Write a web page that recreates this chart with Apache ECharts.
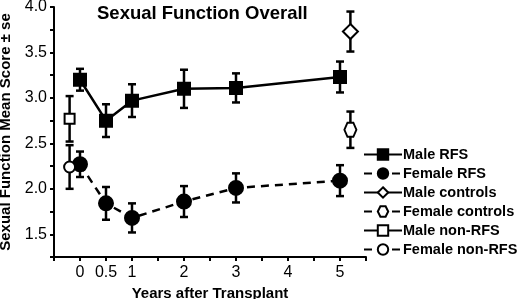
<!DOCTYPE html>
<html>
<head>
<meta charset="utf-8">
<script src="https://cdn.jsdelivr.net/npm/echarts@6/dist/echarts.min.js"></script>
<style>
  html, body { margin: 0; padding: 0; background: #fff; }
  #chart { width: 520px; height: 299px; }
</style>
</head>
<body>
<div id="chart"></div>
<script>
// data
const rfsYears = [0, 0.5, 1, 2, 3, 5];
const maleRfsMean = [3.20, 2.75, 2.97, 3.10, 3.11, 3.23];
const maleRfsSe = [0.12, 0.18, 0.18, 0.21, 0.16, 0.17];
const femaleRfsMean = [2.27, 1.84, 1.68, 1.86, 2.01, 2.09];
const femaleRfsSe = [0.14, 0.18, 0.16, 0.17, 0.16, 0.17];

const controlYear = [5.2];
const maleControlMean = [3.73];
const maleControlSe = [0.22];
const femaleControlMean = [2.65];
const femaleControlSe = [0.20];

const nonRfsYear = [-0.2];
const maleNonRfsMean = [2.77];
const maleNonRfsSe = [0.25];
const femaleNonRfsMean = [2.24];
const femaleNonRfsSe = [0.24];

const xLabels = [0, 0.5, 1, 2, 3, 4, 5];
const yLabels = [1.5, 2.0, 2.5, 3.0, 3.5, 4.0];

const font = 'Liberation Sans, Arial, Helvetica, sans-serif';
const black = '#000';

const pts = (xs, ys) => xs.map((x, i) => [x, ys[i]]);
const bars = (xs, ys, se) => xs.map((x, i) => [x, ys[i] - se[i], ys[i] + se[i]]);

const diamond = 'path://M0,-1L1,0L0,1L-1,0Z';
const hexagon = 'path://M-0.5,-1L0.5,-1L1,0L0.5,1L-0.5,1L-1,0Z';

function errorBars(data) {
  return {
    type: 'custom',
    z: 1,
    silent: true,
    data: data,
    encode: { x: 0, y: [1, 2] },
    renderItem: function (params, api) {
      const x = api.value(0);
      const top = api.coord([x, api.value(2)]);
      const bot = api.coord([x, api.value(1)]);
      const cw = 4;
      const st = { stroke: black, lineWidth: 2.5 };
      return {
        type: 'group',
        children: [
          { type: 'line', shape: { x1: top[0], y1: top[1], x2: bot[0], y2: bot[1] }, style: st },
          { type: 'line', shape: { x1: top[0] - cw, y1: top[1], x2: top[0] + cw, y2: top[1] }, style: st },
          { type: 'line', shape: { x1: bot[0] - cw, y1: bot[1], x2: bot[0] + cw, y2: bot[1] }, style: st }
        ]
      };
    }
  };
}

function lineSeries(name, data, symbol, size, filled, dashed) {
  return {
    name: name,
    type: 'line',
    z: 3,
    data: data,
    symbol: symbol,
    symbolSize: size,
    showAllSymbol: true,
    lineStyle: { color: black, width: 2.5, type: dashed ? [8, 6] : 'solid' },
    itemStyle: { color: filled ? black : '#fff', borderColor: black, borderWidth: 2 },
    emphasis: { disabled: true }
  };
}

const chart = echarts.init(document.getElementById('chart'));
const option = {
  animation: false,
  title: {
    text: 'Sexual Function Overall',
    left: 92,
    top: -1,
    textStyle: { fontFamily: font, fontSize: 18.5, fontWeight: 'bold', color: black }
  },
  legend: {
    orient: 'vertical',
    left: 358,
    top: 142,
    itemWidth: 38,
    itemHeight: 13,
    itemGap: 4,
    data: ['Male RFS', 'Female RFS', 'Male controls', 'Female controls', 'Male non-RFS', 'Female non-RFS'],
    textStyle: { fontFamily: font, fontSize: 14.5, lineHeight: 15, fontWeight: 'bold', color: black, padding: [0, 0, 0, -4] }
  },
  grid: { left: 54, right: 154, top: 7, bottom: 42, outerBoundsMode: 'none' },
  xAxis: {
    type: 'value',
    min: -0.5,
    max: 5.5,
    interval: 0.5,
    name: 'Years after Transplant',
    nameLocation: 'middle',
    nameGap: 25,
    nameTextStyle: { fontFamily: font, fontSize: 15, fontWeight: 'bold', color: black },
    splitLine: { show: false },
    axisLine: { onZero: false, lineStyle: { color: black, width: 2 } },
    axisTick: { length: 4, lineStyle: { color: black, width: 2 } },
    axisLabel: {
      margin: 8,
      fontFamily: font, fontSize: 16, color: black,
      formatter: v => xLabels.some(t => Math.abs(t - v) < 1e-6) ? String(v) : ''
    }
  },
  yAxis: {
    type: 'value',
    min: 1.25,
    max: 4.0,
    interval: 0.25,
    name: 'Sexual Function Mean Score ± se',
    nameLocation: 'middle',
    nameGap: 36,
    nameTextStyle: { fontFamily: font, fontSize: 15, fontWeight: 'bold', color: black },
    splitLine: { show: false },
    axisLine: { onZero: false, lineStyle: { color: black, width: 2 } },
    axisTick: { length: 4, lineStyle: { color: black, width: 2 } },
    axisLabel: {
      margin: 7,
      fontFamily: font, fontSize: 16, color: black,
      formatter: v => yLabels.some(t => Math.abs(t - v) < 1e-6) ? v.toFixed(1) : ''
    }
  },
  series: [
    errorBars(bars(rfsYears, maleRfsMean, maleRfsSe)),
    errorBars(bars(rfsYears, femaleRfsMean, femaleRfsSe)),
    errorBars(bars(controlYear, maleControlMean, maleControlSe)),
    errorBars(bars(controlYear, femaleControlMean, femaleControlSe)),
    errorBars(bars(nonRfsYear, maleNonRfsMean, maleNonRfsSe)),
    errorBars(bars(nonRfsYear, femaleNonRfsMean, femaleNonRfsSe)),
    lineSeries('Male RFS', pts(rfsYears, maleRfsMean), 'rect', 12, true, false),
    lineSeries('Female RFS', pts(rfsYears, femaleRfsMean), 'circle', 14, true, true),
    lineSeries('Male controls', pts(controlYear, maleControlMean), diamond, 15, false, false),
    lineSeries('Female controls', pts(controlYear, femaleControlMean), hexagon, [12, 14], false, true),
    lineSeries('Male non-RFS', pts(nonRfsYear, maleNonRfsMean), 'rect', 10, false, false),
    lineSeries('Female non-RFS', pts(nonRfsYear, femaleNonRfsMean), 'circle', 11, false, true)
  ]
};
chart.setOption(option);
</script>
</body>
</html>
